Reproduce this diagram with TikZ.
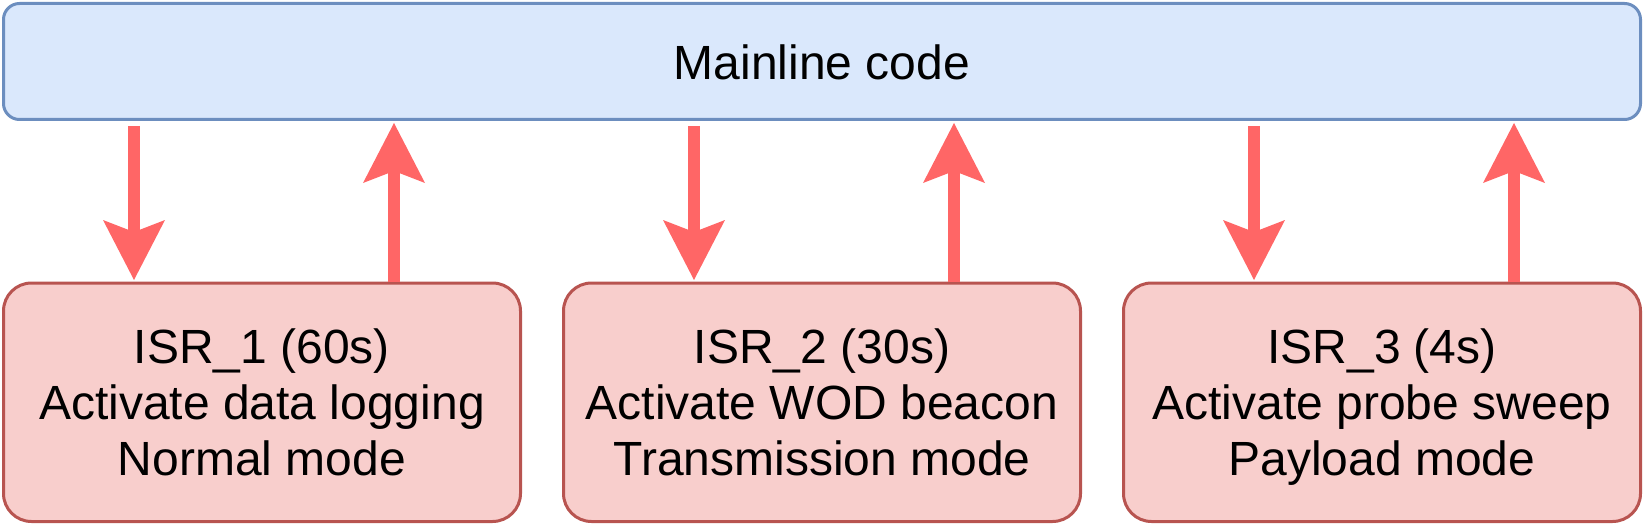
\documentclass[tikz,border=0pt]{standalone}
\usepackage{fontspec}
\setmainfont{Liberation Sans}
\usetikzlibrary{arrows.meta}
\definecolor{mainfill}{HTML}{DAE8FC}
\definecolor{maindraw}{HTML}{6C8EBF}
\definecolor{isrfill}{HTML}{F8CECC}
\definecolor{isrdraw}{HTML}{B85450}
\definecolor{arrowred}{HTML}{FF6666}
\newcommand\myTopStrut{\rule{0pt}{52pt}}
\newcommand\myBotStrut{\rule[-17pt]{0pt}{17pt}}
\begin{document}
\begin{tikzpicture}[x=1pt,y=-1pt,
  mainbox/.style={draw=maindraw,fill=mainfill,line width=3pt,rounded corners=16pt,
    minimum width=1637pt,minimum height=116pt,inner sep=0pt,
    text height=37pt,text depth=0pt,
    font=\fontsize{48}{57}\selectfont},
  isrbox/.style={draw=isrdraw,fill=isrfill,line width=3pt,rounded corners=28pt,
    minimum width=517pt,minimum height=238.5pt,inner sep=0pt,align=center,
    font=\fontsize{48}{56}\selectfont},
  flow/.style={draw=arrowred,line width=12pt,
    -{Stealth[length=60pt,width=62pt,inset=12pt,line width=0pt]}}]
\useasboundingbox (0,0) rectangle (1644,524);
\node[mainbox] (main) at (822,61.5) {Mainline code};
\node[isrbox] (isr1) at (262,402.25) {\myTopStrut ISR\_1 (60s)\\Activate data logging\\Normal mode\myBotStrut};
\node[isrbox] (isr2) at (822,402.25) {\myTopStrut ISR\_2 (30s)\\Activate WOD beacon\\Transmission mode\myBotStrut};
\node[isrbox] (isr3) at (1382,402.25) {\myTopStrut ISR\_3 (4s)\\Activate probe sweep\\Payload mode\myBotStrut};
\foreach \b in {isr1,isr2,isr3}{
  \coordinate (\b d) at ([xshift=-128pt]\b.north);
  \coordinate (\b u) at ([xshift=132pt]\b.north);
  \draw[flow,shorten <=5pt,shorten >=1.5pt] (main.south -| \b d) -- (\b d);
  \draw[flow,shorten >=2pt] (\b u) -- (main.south -| \b u);
}
\end{tikzpicture}
\end{document}
